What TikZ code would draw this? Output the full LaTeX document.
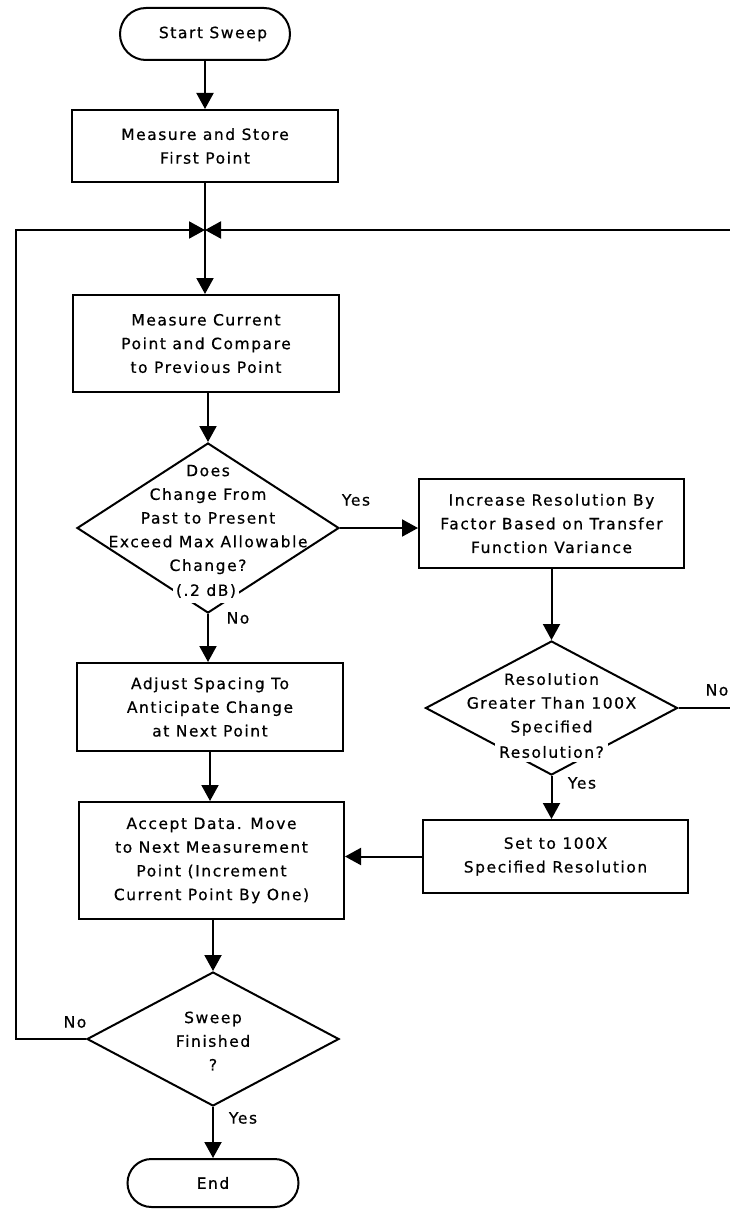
\documentclass[tikz,border=0pt]{standalone}
\usepackage{fontspec}
\setmainfont{DejaVu Sans}[LetterSpace=10,FakeBold=0.6]
\usetikzlibrary{shapes.geometric,arrows.meta}
\begin{document}
\begin{tikzpicture}[x=1pt,y=-1pt,
  line width=2pt,
  every node/.style={font=\fontsize{15.5}{23.7}\selectfont},
  box/.style={draw, rectangle, inner sep=0pt, align=center},
  term/.style={draw, rectangle, inner sep=0pt, align=center},
  dia/.style={draw, diamond, inner sep=0pt},
  txt/.style={align=center, inner sep=0pt},
  arr/.style={-{Triangle[length=16pt,width=17pt]}},
  lbl/.style={inner sep=0pt}
]
\useasboundingbox (0,0) rectangle (730,1209);
\fill[white] (0,0) rectangle (730,1209);
\clip (0,0) rectangle (730,1209);

\node[term, minimum width=170pt, minimum height=52pt, rounded corners=26pt] (start) at (205,34) {\hspace*{16pt}Start Sweep};
\node[box, minimum width=266pt, minimum height=72pt] (m1) at (205,146) {Measure and Store\\First Point};
\coordinate (J) at (205,230);
\node[box, minimum width=266pt, minimum height=97pt] (m2) at (206,343.5) {Measure Current\\Point and Compare\\to Previous Point};
\node[dia, minimum width=262pt, minimum height=170pt] (d1) at (208,528) {};
\node[txt] (d1t) at (208,519.5) {Does\\Change From\\Past to Present\\Exceed Max Allowable\\Change?};
\node[txt, fill=white, inner xsep=3pt, inner ysep=5pt] (d1u) at (206,591) {(.2 dB)};
\node[box, minimum width=265pt, minimum height=89pt] (inc) at (551.5,523.5) {Increase Resolution By\\Factor Based on Transfer\\Function Variance};
\node[dia, minimum width=252pt, minimum height=134pt] (d2) at (551.5,708) {};
\node[txt] (d2t) at (551.5,704.3) {Resolution\\Greater Than 100X\\Specified};
\node[txt, fill=white, inner xsep=4pt, inner ysep=4pt] (d2u) at (551.5,752) {Resolution?};
\node[box, minimum width=266pt, minimum height=88pt] (adj) at (210,707) {Adjust Spacing To\\Anticipate Change\\at Next Point};
\node[box, minimum width=265pt, minimum height=73pt] (set) at (555.5,856.5) {Set to 100X\\Specified Resolution};
\node[box, minimum width=265pt, minimum height=117pt] (acc) at (211.5,860.5) {Accept Data. Move\\to Next Measurement\\Point (Increment\\Current Point By One)};
\node[dia, minimum width=252pt, minimum height=134pt] (d3) at (213,1039) {};
\node[txt] (d3t) at (213,1041) {Sweep\\Finished\\?};
\node[term, minimum width=171pt, minimum height=48pt, rounded corners=24pt] (end) at (213,1183) {End};

\node[lbl] (y1) at (356,500) {Yes};
\node[lbl] (n1) at (238,618) {No};
\node[lbl] (n2) at (717,690) {No};
\node[lbl] (y2) at (582,783) {Yes};
\node[lbl] (n3) at (75,1022) {No};
\node[lbl] (y3) at (243,1118) {Yes};

\draw[arr] (start.south) -- (start.south |- m1.north);
\draw (m1.south) -- (J);
\draw[arr] (J) -- (J |- m2.north);
\draw[arr] (d1.north |- m2.south) -- (d1.north);
\draw[arr] (d1.east) -- (d1.east -| inc.west);
\draw[arr] (d1.south) -- (d1.south |- adj.north);
\draw[arr] (d2.north |- inc.south) -- (d2.north);
\draw[arr] (d2.south) -- (d2.south |- set.north);
\draw[arr] (set.west) -- (set.west -| acc.east);
\draw[arr] (adj.south) -- (adj.south |- acc.north);
\draw[arr] (d3.north |- acc.south) -- (d3.north);
\draw[arr] (d3.south) -- (end.north);
\draw[arr] (d3.west) -- (16,1039) |- (J);
\draw[arr] (d2.east) -- (745,708) |- (J);
\end{tikzpicture}
\end{document}
